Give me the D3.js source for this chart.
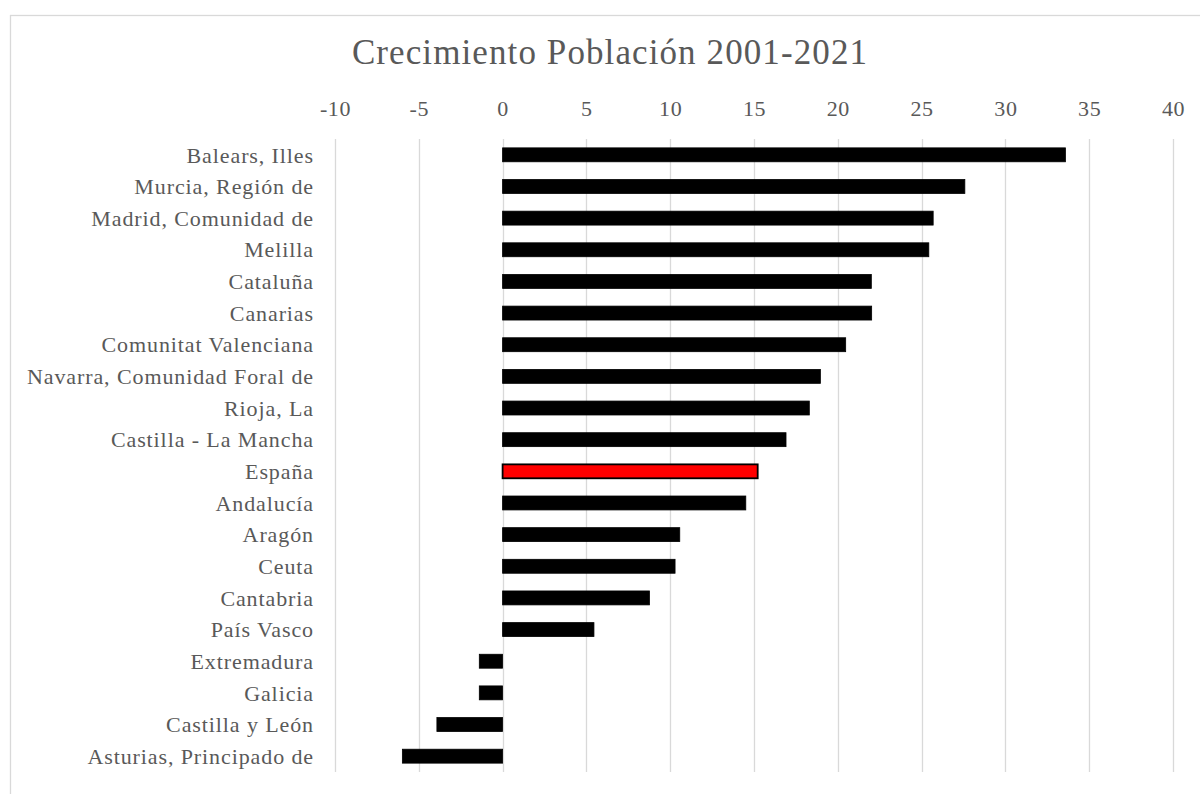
<!DOCTYPE html>
<html>
<head>
<meta charset="utf-8">
<script src="https://cdn.jsdelivr.net/npm/d3@7"></script>
<style>
  html, body { margin: 0; padding: 0; background: #fff; }
  svg { display: block; }
</style>
</head>
<body>
<svg id="chart" width="1200" height="794"></svg>
<script>
const title = "Crecimiento Población 2001-2021";
const categories = [
  "Balears, Illes", "Murcia, Región de", "Madrid, Comunidad de", "Melilla",
  "Cataluña", "Canarias", "Comunitat Valenciana", "Navarra, Comunidad Foral de",
  "Rioja, La", "Castilla - La Mancha", "España", "Andalucía", "Aragón", "Ceuta",
  "Cantabria", "País Vasco", "Extremadura", "Galicia", "Castilla y León",
  "Asturias, Principado de"
];
const values = [
  33.58, 27.58, 25.69, 25.43, 22.0, 22.02, 20.47, 18.96, 18.3, 16.91,
  15.22, 14.51, 10.57, 10.29, 8.76, 5.45, -1.39, -1.39, -3.92, -5.98
];
const highlight = "España";
const tickValues = [-10, -5, 0, 5, 10, 15, 20, 25, 30, 35, 40];

const svg = d3.select("#chart");
const W = 1200, H = 794;
const plot = { left: 335, right: 1173, top: 139, bottom: 772 };
const textColor = "#595959";
const gridColor = "#d9d9d9";
const font = "'Liberation Serif', 'Times New Roman', serif";

// chart border
svg.append("rect")
  .attr("x", 10.5).attr("y", 15.5)
  .attr("width", W).attr("height", H)
  .attr("fill", "#fff").attr("stroke", gridColor).attr("stroke-width", 1.3);

const x = d3.scaleLinear().domain([-10, 40]).range([plot.left, plot.right]);
const y = d3.scaleBand().domain(categories).range([plot.top, plot.bottom]).paddingInner(0.56).paddingOuter(0.28);

// gridlines
svg.append("g").selectAll("line").data(tickValues).join("line")
  .attr("x1", d => Math.round(x(d)) + 0.5).attr("x2", d => Math.round(x(d)) + 0.5)
  .attr("y1", plot.top).attr("y2", plot.bottom)
  .attr("stroke", gridColor).attr("stroke-width", 1.3);

// top axis tick labels
const axis = d3.axisTop(x).tickValues(tickValues).tickSize(0).tickPadding(0)
  .tickFormat(d3.format("d"));
const ax = svg.append("g").attr("transform", `translate(0, 116)`).call(axis);
ax.select(".domain").remove();
ax.selectAll("text")
  .attr("fill", textColor)
  .style("font-family", font)
  .style("font-size", "22px")
  .style("letter-spacing", "0.6px")
  .text(d => d < 0 ? "-" + Math.abs(d) : d);

// bars
svg.append("g").selectAll("rect").data(values).join("rect")
  .attr("x", (d) => x(Math.min(0, d)))
  .attr("width", (d) => Math.abs(x(d) - x(0)))
  .attr("y", (d, i) => y(categories[i]))
  .attr("height", y.bandwidth())
  .attr("fill", (d, i) => categories[i] === highlight ? "#ff0000" : "#000")
  .attr("stroke", "#000")
  .attr("stroke-width", (d, i) => categories[i] === highlight ? 1.8 : 0.8);

// category labels
svg.append("g").selectAll("text").data(categories).join("text")
  .attr("x", 314)
  .attr("y", d => y(d) + y.bandwidth() / 2)
  .attr("dy", "0.35em")
  .attr("text-anchor", "end")
  .attr("fill", textColor)
  .style("font-family", font)
  .style("font-size", "22px")
  .style("letter-spacing", "0.9px")
  .text(d => d);

// title
svg.append("text")
  .attr("x", 610).attr("y", 64)
  .attr("text-anchor", "middle")
  .attr("fill", textColor)
  .style("font-family", font)
  .style("font-size", "35px")
  .style("letter-spacing", "1.1px")
  .text(title);
</script>
</body>
</html>
